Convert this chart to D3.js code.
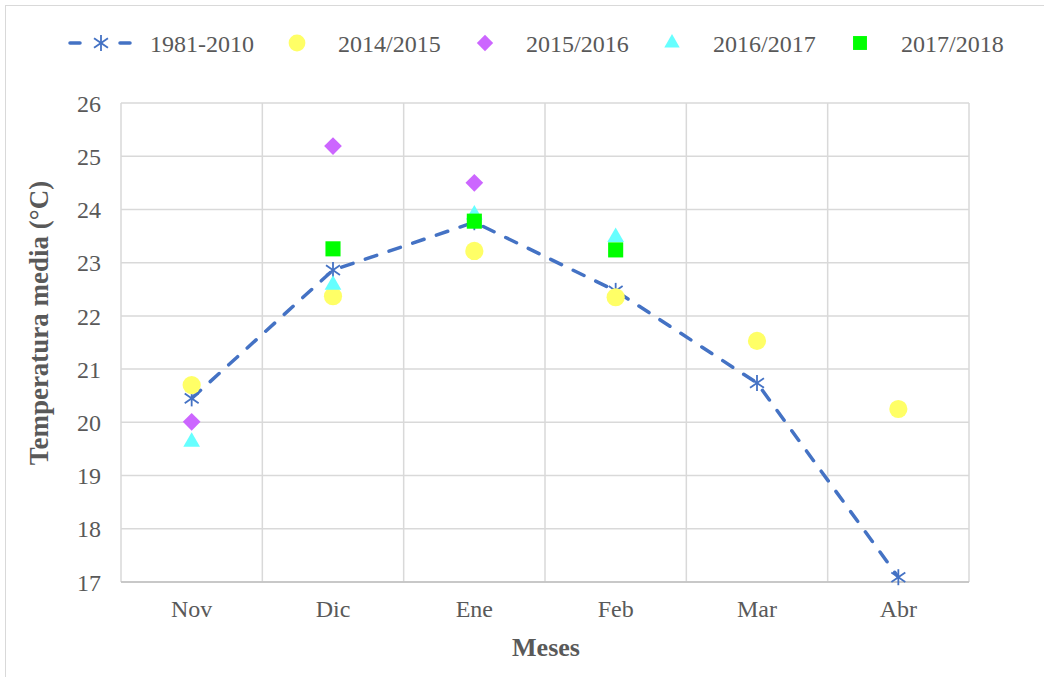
<!DOCTYPE html>
<html>
<head>
<meta charset="utf-8">
<script src="https://cdn.jsdelivr.net/npm/d3@7"></script>
<style>
  body { margin: 0; background: #fff; }
  text { font-family: "Liberation Serif", "Times New Roman", serif; }
</style>
</head>
<body>
<svg id="chart" width="1044" height="677"></svg>
<script>
// datos
const meses = ["Nov", "Dic", "Ene", "Feb", "Mar", "Abr"];
const yTicks = [17, 18, 19, 20, 21, 22, 23, 24, 25, 26];
const normal8110 = [20.45, 22.86, 23.76, 22.47, 20.74, 17.09];
const temp1415 = [20.70, 22.37, 23.22, 22.35, 21.53, 20.25];
const temp1516 = [20.01, 25.19, 24.50, null, null, null];
const temp1617 = [19.63, 22.58, 23.90, 23.48, null, null];
const temp1718 = [null, 23.26, 23.78, 23.24, null, null];

const svg = d3.select("#chart");
const margin = { top: 103, right: 75, bottom: 95, left: 121 };
const width = +svg.attr("width") - margin.left - margin.right;
const height = +svg.attr("height") - margin.top - margin.bottom;

// marco exterior
svg.append("rect")
    .attr("x", 5.5).attr("y", 5.5)
    .attr("width", 1050).attr("height", 700)
    .attr("fill", "none")
    .attr("stroke", "#d9d9d9");

const g = svg.append("g").attr("transform", `translate(${margin.left},${margin.top})`);

const x = d3.scaleBand().domain(meses).range([0, width]);
const y = d3.scaleLinear().domain([17, 26]).range([height, 0]);

// rejilla horizontal
g.selectAll(".hgrid")
    .data(yTicks)
    .enter()
    .append("line")
    .attr("x1", 0).attr("x2", width)
    .attr("y1", d => y(d)).attr("y2", d => y(d))
    .attr("stroke", "#d9d9d9")
    .attr("stroke-width", 1.5);

// rejilla vertical (bordes de categoría)
const bordes = meses.map(m => x(m)).concat([width]);
g.selectAll(".vgrid")
    .data(bordes)
    .enter()
    .append("line")
    .attr("x1", d => d).attr("x2", d => d)
    .attr("y1", 0).attr("y2", height)
    .attr("stroke", "#d9d9d9")
    .attr("stroke-width", 1.5);

// eje inferior
g.append("line")
    .attr("x1", 0).attr("x2", width)
    .attr("y1", height).attr("y2", height)
    .attr("stroke", "#bfbfbf")
    .attr("stroke-width", 1.5);

// etiquetas eje Y
const yAxis = g.append("g")
    .call(d3.axisLeft(y).tickValues(yTicks).tickSize(0).tickPadding(20));
yAxis.select(".domain").remove();
yAxis.selectAll("text")
    .attr("fill", "#595959")
    .attr("dy", "0.34em")
    .style("font-size", "24px")
    .style("font-family", "Liberation Serif");

// etiquetas eje X
const xAxis = g.append("g")
    .attr("transform", `translate(0,${height})`)
    .call(d3.axisBottom(x).tickSize(0).tickPadding(18));
xAxis.select(".domain").remove();
xAxis.selectAll("text")
    .attr("fill", "#595959")
    .style("font-size", "24px")
    .style("font-family", "Liberation Serif");

// títulos de ejes
svg.append("text")
    .attr("transform", "translate(48,323) rotate(-90)")
    .attr("text-anchor", "middle")
    .attr("fill", "#595959")
    .style("font-size", "27px")
    .style("font-weight", "bold")
    .text("Temperatura media (°C)");

svg.append("text")
    .attr("x", 546)
    .attr("y", 656)
    .attr("text-anchor", "middle")
    .attr("fill", "#595959")
    .style("font-size", "26px")
    .style("font-weight", "bold")
    .text("Meses");

const cx = i => x(meses[i]) + x.bandwidth() / 2;
const azul = "#4472C4";

// línea 1981-2010
const linea = d3.line()
    .x((d, i) => cx(i))
    .y(d => y(d));
g.append("path")
    .datum(normal8110)
    .attr("d", linea)
    .attr("fill", "none")
    .attr("stroke", azul)
    .attr("stroke-width", 3.5)
    .attr("stroke-dasharray", "12,13")
    .attr("stroke-linecap", "round");

function estrella(sel, s) {
    sel.append("line").attr("x1", 0).attr("x2", 0).attr("y1", -s).attr("y2", s);
    sel.append("line").attr("x1", -s * 0.87).attr("x2", s * 0.87).attr("y1", -s * 0.6).attr("y2", s * 0.6);
    sel.append("line").attr("x1", -s * 0.87).attr("x2", s * 0.87).attr("y1", s * 0.6).attr("y2", -s * 0.6);
    sel.attr("stroke", azul).attr("stroke-width", 1.8);
}

g.selectAll(".estrella")
    .data(normal8110)
    .enter()
    .append("g")
    .attr("class", "estrella")
    .attr("transform", (d, i) => `translate(${cx(i)},${y(d)})`)
    .each(function() { estrella(d3.select(this), 8); });

const series = [
    { nombre: "2014/2015", valores: temp1415, forma: d3.symbolCircle, tam: 260, color: "#FFFF66" },
    { nombre: "2015/2016", valores: temp1516, forma: d3.symbolDiamond2, tam: 200, color: "#CC66FF" },
    { nombre: "2016/2017", valores: temp1617, forma: d3.symbolTriangle2, tam: 200, color: "#66FFFF" },
    { nombre: "2017/2018", valores: temp1718, forma: d3.symbolSquare2, tam: 290, color: "#00FF00" }
];

series.forEach(s => {
    const pts = s.valores.map((v, i) => ({ v, i })).filter(d => d.v !== null);
    g.selectAll(null)
        .data(pts)
        .enter()
        .append("path")
        .attr("d", d3.symbol().type(s.forma).size(s.tam))
        .attr("transform", d => `translate(${cx(d.i)},${y(d.v)})`)
        .attr("fill", s.color);
});

// leyenda
const ley = svg.append("g").attr("transform", "translate(0,43)");
const l0 = ley.append("g");
l0.append("line")
    .attr("x1", 70).attr("x2", 130)
    .attr("stroke", azul).attr("stroke-width", 3.5)
    .attr("stroke-dasharray", "10,40").attr("stroke-linecap", "round");
l0.append("g").attr("transform", "translate(101,0)").each(function() { estrella(d3.select(this), 8); });
l0.append("text").attr("x", 150).attr("y", 9)
    .attr("fill", "#595959").style("font-size", "24px").text("1981-2010");

const posLey = [297, 485, 672, 860];
series.forEach((s, k) => {
    ley.append("path")
        .attr("d", d3.symbol().type(s.forma).size(s.tam * 0.85))
        .attr("transform", `translate(${posLey[k]},0)`)
        .attr("fill", s.color);
    ley.append("text")
        .attr("x", posLey[k] + 41).attr("y", 9)
        .attr("fill", "#595959").style("font-size", "24px")
        .text(s.nombre);
});
</script>
</body>
</html>
